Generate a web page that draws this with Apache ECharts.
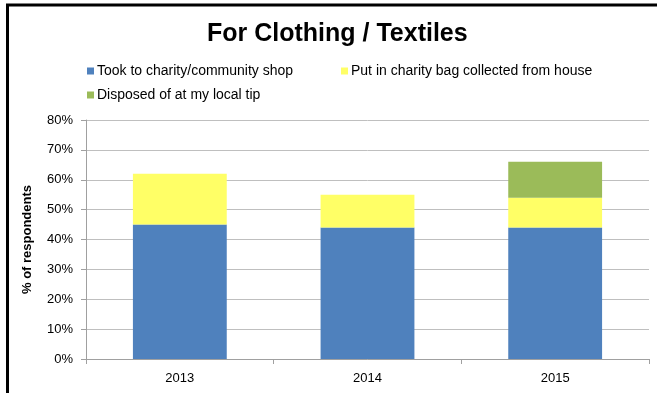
<!DOCTYPE html>
<html><head><meta charset="utf-8">
<script src="https://cdn.jsdelivr.net/npm/echarts@6/dist/echarts.min.js"></script>
<style>html,body{margin:0;padding:0;background:#fff}#c{width:657px;height:393px}</style>
</head><body><div id="c"></div>
<script>
const title = 'For Clothing / Textiles';
const categories = ['2013', '2014', '2015'];
const seriesNames = ['Took to charity/community shop', 'Put in charity bag collected from house', 'Disposed of at my local tip'];
const charityShop = [45, 44, 44];
const charityBag = [17, 11, 10];
const localTip = [null, null, 12];
const yTicks = [0, 10, 20, 30, 40, 50, 60, 70, 80];
const colors = ['#4F81BD', '#FFFF66', '#9BBB59'];

const chart = echarts.init(document.getElementById('c'));
const font = 'Liberation Sans, Arial, sans-serif';
const legendPos = [{left: 87, top: 64}, {left: 341, top: 64}, {left: 87, top: 88}];
chart.setOption({
  animation: false,
  textStyle: {fontFamily: font},
  title: {text: title, left: 207, top: 22, padding: 0, textStyle: {fontSize: 25, fontWeight: 'bold', color: '#000', fontFamily: font}},
  graphic: [{type: 'rect', shape: {x: 7.5, y: 5, width: 700, height: 450}, style: {fill: 'none', stroke: '#000', lineWidth: 3}}],
  legend: seriesNames.map((n, i) => ({data: [n], left: legendPos[i].left, top: legendPos[i].top, itemWidth: 7, itemHeight: 7, itemGap: 0, icon: 'rect', padding: 0, textStyle: {fontSize: 14, color: '#000', padding: [0, 0, 0, -2]}})),
  grid: {left: 86, right: 8, top: 120, bottom: 34},
  xAxis: {type: 'category', data: categories,
    axisLine: {lineStyle: {color: '#A0A0A0'}},
    axisTick: {show: true, length: 5, lineStyle: {color: '#A0A0A0'}},
    axisLabel: {fontSize: 13, color: '#000', margin: 13}},
  yAxis: {type: 'value', min: yTicks[0], max: yTicks[yTicks.length - 1], interval: 10,
    name: '% of respondents', nameLocation: 'middle', nameGap: 52,
    nameTextStyle: {fontSize: 13, fontWeight: 'bold', color: '#000'},
    axisLine: {show: true, lineStyle: {color: '#A0A0A0'}},
    axisTick: {show: true, length: 5, lineStyle: {color: '#A0A0A0'}},
    axisLabel: {fontSize: 13, color: '#000', margin: 13, formatter: v => v + '%'},
    splitLine: {lineStyle: {color: '#BFBFBF'}}},
  series: [charityShop, charityBag, localTip].map((d, i) => ({
    name: seriesNames[i], type: 'bar', stack: 'all', data: d, barWidth: '50%',
    itemStyle: {color: colors[i]}
  }))
});
</script></body></html>
